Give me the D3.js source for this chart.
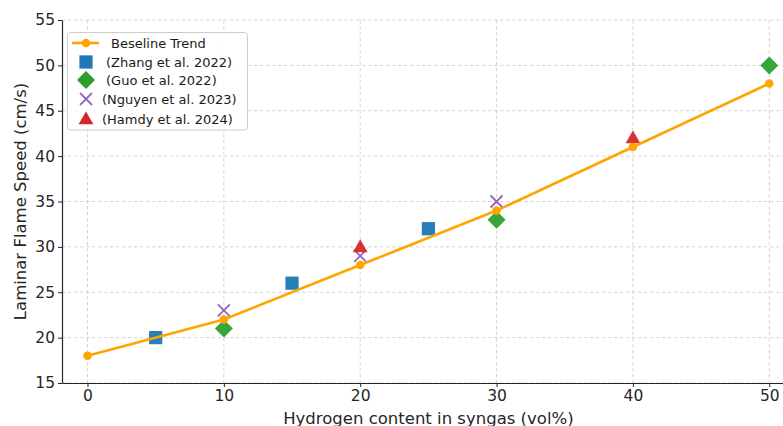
<!DOCTYPE html>
<html>
<head>
<meta charset="utf-8">
<script src="https://cdn.jsdelivr.net/npm/d3@7"></script>
<style>
  html, body { margin: 0; padding: 0; background: #fff; overflow: hidden; }
  svg { display: block; font-family: "DejaVu Sans", sans-serif; }
</style>
</head>
<body>
<svg id="chart" width="783" height="426"></svg>
<script>
// ---- data ----
const xTicks = [0, 10, 20, 30, 40, 50];
const yTicks = [15, 20, 25, 30, 35, 40, 45, 50, 55];
const baselineX = [0, 10, 20, 30, 40, 50];
const baselineY = [18, 22, 28, 34, 41, 48];
const zhangX = [5, 15, 25];
const zhangY = [20, 26, 32];
const guoX = [10, 30, 50];
const guoY = [21, 33, 50];
const nguyenX = [10, 20, 30];
const nguyenY = [23, 29, 35];
const hamdyX = [20, 40];
const hamdyY = [30, 42];
const legendLabels = ["Beseline Trend", "(Zhang et al. 2022)", "(Guo et al. 2022)", "(Nguyen et al. 2023)", "(Hamdy et al. 2024)"];
const xLabel = "Hydrogen content in syngas (vol%)";
const yLabel = "Laminar Flame Speed (cm/s)";

const colors = { base: "#ffa500", zhang: "#1f77b4", guo: "#2ca02c", nguyen: "#9467bd", hamdy: "#d62728" };

const svg = d3.select("#chart");
const pLeft = 62, pRight = 805, pTop = 20, pBottom = 383;

const x = d3.scaleLinear().domain([-1.87, 52.62]).range([pLeft, pRight]);
const y = d3.scaleLinear().domain([15, 55]).range([pBottom, pTop]);

// grid
const grid = svg.append("g");
grid.selectAll("line.v").data(xTicks).join("line")
  .attr("x1", d => x(d)).attr("x2", d => x(d))
  .attr("y1", pTop).attr("y2", pBottom)
  .attr("stroke", "#d0d0d0").attr("stroke-width", 0.9).attr("stroke-dasharray", "3.5,2.5");
grid.selectAll("line.h").data(yTicks).join("line")
  .attr("x1", pLeft).attr("x2", pRight)
  .attr("y1", d => y(d)).attr("y2", d => y(d))
  .attr("stroke", "#d0d0d0").attr("stroke-width", 0.9).attr("stroke-dasharray", "3.5,2.5");

// axes
const axColor = "#262626";
const gx = svg.append("g").attr("transform", `translate(0,${pBottom})`)
  .call(d3.axisBottom(x).tickValues(xTicks).tickSize(4).tickSizeOuter(0).tickPadding(3));
const gy = svg.append("g").attr("transform", `translate(${pLeft},0)`)
  .call(d3.axisLeft(y).tickValues(yTicks).tickSize(4).tickSizeOuter(0).tickPadding(3));
[gx, gy].forEach(g => {
  g.select(".domain").attr("stroke", axColor).attr("stroke-width", 1.2);
  g.selectAll(".tick line").attr("stroke", axColor).attr("stroke-width", 1);
  g.selectAll(".tick text").attr("fill", axColor).style("font-size", "15.5px").style("font-family", "DejaVu Sans");
});

// axis labels
svg.append("text").attr("x", x(25)).attr("y", 423.5)
  .attr("text-anchor", "middle").attr("fill", axColor)
  .style("font-size", "16.5px").text(xLabel);
svg.append("text").attr("transform", `translate(26,${(pTop + pBottom) / 2}) rotate(-90)`)
  .attr("text-anchor", "middle").attr("fill", axColor)
  .style("font-size", "16.5px").text(yLabel);

// marker shapes
const sq = d3.symbol().type(d3.symbolSquare).size(175);
const tri = d3.symbol().type(d3.symbolTriangle).size(95);
function diamond(s) { return `M0,${-s}L${s},0L0,${s}L${-s},0Z`; }
function cross(s) { return `M${-s},${-s}L${s},${s}M${-s},${s}L${s},${-s}`; }

const zhang = zhangX.map((d, i) => [d, zhangY[i]]);
const guo = guoX.map((d, i) => [d, guoY[i]]);
const nguyen = nguyenX.map((d, i) => [d, nguyenY[i]]);
const hamdy = hamdyX.map((d, i) => [d, hamdyY[i]]);
const base = baselineX.map((d, i) => [d, baselineY[i]]);

svg.append("g").selectAll("path").data(zhang).join("path")
  .attr("d", sq).attr("transform", d => `translate(${x(d[0])},${y(d[1])})`)
  .attr("fill", colors.zhang).attr("opacity", 0.95);
svg.append("g").selectAll("path").data(guo).join("path")
  .attr("d", diamond(9)).attr("transform", d => `translate(${x(d[0])},${y(d[1])})`)
  .attr("fill", colors.guo).attr("opacity", 0.95);
svg.append("g").selectAll("path").data(nguyen).join("path")
  .attr("d", cross(6)).attr("transform", d => `translate(${x(d[0])},${y(d[1])})`)
  .attr("fill", "none").attr("stroke", colors.nguyen).attr("stroke-width", 1.8);
svg.append("g").selectAll("path").data(hamdy).join("path")
  .attr("d", tri).attr("transform", d => `translate(${x(d[0])},${y(d[1]) + 1})`)
  .attr("fill", colors.hamdy).attr("opacity", 0.95);

// baseline on top
svg.append("path").datum(base)
  .attr("d", d3.line().x(d => x(d[0])).y(d => y(d[1])))
  .attr("fill", "none").attr("stroke", colors.base).attr("stroke-width", 2.6);
svg.append("g").selectAll("circle").data(base).join("circle")
  .attr("cx", d => x(d[0])).attr("cy", d => y(d[1])).attr("r", 4.3)
  .attr("fill", colors.base);

// legend
const lg = svg.append("g");
lg.append("rect").attr("x", 67.5).attr("y", 32.5).attr("width", 180).attr("height", 97.5)
  .attr("rx", 3).attr("fill", "#ffffff").attr("fill-opacity", 0.85)
  .attr("stroke", "#cccccc").attr("stroke-width", 1);
const rowY = [43, 62, 80, 99, 119];
const textX = [111, 106, 106, 102, 102];
const mx = 86;
lg.append("line").attr("x1", 72).attr("x2", 99).attr("y1", rowY[0]).attr("y2", rowY[0])
  .attr("stroke", colors.base).attr("stroke-width", 2.6);
lg.append("circle").attr("cx", mx).attr("cy", rowY[0]).attr("r", 4.3).attr("fill", colors.base);
lg.append("path").attr("d", sq).attr("transform", `translate(${mx},${rowY[1]})`).attr("fill", colors.zhang);
lg.append("path").attr("d", diamond(9)).attr("transform", `translate(${mx},${rowY[2]})`).attr("fill", colors.guo);
lg.append("path").attr("d", cross(6)).attr("transform", `translate(${mx},${rowY[3]})`)
  .attr("fill", "none").attr("stroke", colors.nguyen).attr("stroke-width", 1.8);
lg.append("path").attr("d", tri).attr("transform", `translate(${mx},${rowY[4] + 1})`).attr("fill", colors.hamdy);
lg.selectAll("text").data(legendLabels).join("text")
  .attr("x", (d, i) => textX[i]).attr("y", (d, i) => rowY[i] + 4.7)
  .attr("fill", "#1a1a1a").style("font-size", "13px").text(d => d);
</script>
</body>
</html>
